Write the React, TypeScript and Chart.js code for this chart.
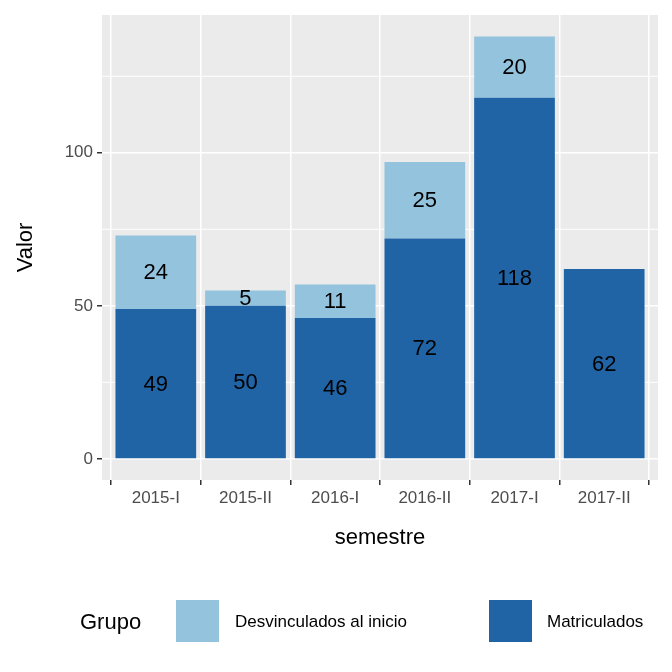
import { useEffect, useRef } from 'react';
import { Chart, registerables } from 'chart.js';

Chart.register(...registerables);

const semestres = ['2015-I', '2015-II', '2016-I', '2016-II', '2017-I', '2017-II'];
const matriculados = [49, 50, 46, 72, 118, 62];
const desvinculados: (number | null)[] = [24, 5, 11, 25, 20, null];
const yTicks = [0, 50, 100];
const yMinor = [25, 75, 125];

const LIGHT = '#94C3DE';
const DARK = '#2064A6';
const FONT = '"Liberation Sans", Arial, sans-serif';

const ggPlugin = {
  id: 'gg',
  beforeDraw(chart: any) {
    const { ctx, chartArea: a, scales } = chart;
    ctx.save();
    ctx.fillStyle = '#EBEBEB';
    ctx.fillRect(a.left, a.top, a.right - a.left, a.bottom - a.top);
    ctx.strokeStyle = '#FFFFFF';
    ctx.lineWidth = 1;
    yMinor.forEach((v) => {
      const y = scales.y.getPixelForValue(v);
      ctx.beginPath();
      ctx.moveTo(a.left, y);
      ctx.lineTo(a.right, y);
      ctx.stroke();
    });
    ctx.restore();
  },
  afterDraw(chart: any) {
    const { ctx, chartArea: a } = chart;
    ctx.save();
    ctx.fillStyle = '#000';
    ctx.font = `22px ${FONT}`;
    ctx.textAlign = 'center';
    ctx.textBaseline = 'middle';
    chart.data.datasets.forEach((ds: any, di: number) => {
      const meta = chart.getDatasetMeta(di);
      ds.data.forEach((v: any, i: number) => {
        if (v == null || v.y == null) return;
        const bar = meta.data[i];
        ctx.fillText(String(v.y), bar.x, (bar.y + bar.base) / 2 + 1);
      });
    });
    ctx.fillText('semestre', (a.left + a.right) / 2, 538);
    ctx.save();
    ctx.translate(26, (a.top + a.bottom) / 2);
    ctx.rotate(-Math.PI / 2);
    ctx.fillText('Valor', 0, 0);
    ctx.restore();
    ctx.textAlign = 'left';
    ctx.fillText('Grupo', 80, 623);
    ctx.fillStyle = LIGHT;
    ctx.fillRect(176, 600, 43, 42);
    ctx.fillStyle = DARK;
    ctx.fillRect(489, 600, 43, 42);
    ctx.fillStyle = '#000';
    ctx.font = `17px ${FONT}`;
    ctx.fillText('Desvinculados al inicio', 235, 622);
    ctx.fillText('Matriculados', 547, 622);
    ctx.restore();
  },
};

export default function App() {
  const ref = useRef<HTMLCanvasElement>(null);
  useEffect(() => {
    document.body.style.margin = '0';
    if (!ref.current) return;
    const chart = new Chart(ref.current, {
      type: 'bar',
      data: {
        datasets: [
          { label: 'Matriculados', data: matriculados.map((y, x) => ({ x, y })), backgroundColor: DARK },
          { label: 'Desvinculados al inicio', data: desvinculados.map((y, x) => ({ x, y })), backgroundColor: LIGHT },
        ],
      } as any,
      options: {
        responsive: false,
        animation: false,
        devicePixelRatio: 1,
        layout: { padding: { top: 15, right: 14, left: 0, bottom: 0 } },
        datasets: { bar: { barPercentage: 0.9, categoryPercentage: 1 } },
        plugins: { legend: { display: false }, tooltip: { enabled: false } },
        scales: {
          x: {
            type: 'linear',
            stacked: true,
            min: -0.6,
            max: 5.6,
            offset: false,
            grid: { color: '#FFFFFF', lineWidth: 1.5, tickLength: 5, tickColor: '#333333', tickWidth: 1.5 },
            border: { display: false },
            ticks: {
              color: '#4D4D4D',
              font: { size: 17, family: FONT },
              padding: 3,
              callback: (v: any) => semestres[v as number],
            },
            afterBuildTicks: (s: any) => { s.ticks = semestres.map((_, i) => ({ value: i })); },
            afterFit: (s: any) => { s.height = 192; },
          },
          y: {
            stacked: true,
            min: -6.9,
            max: 145,
            grid: { color: '#FFFFFF', lineWidth: 1.5, tickLength: 5, tickColor: '#333333', tickWidth: 1.5 },
            border: { display: false },
            ticks: { color: '#4D4D4D', font: { size: 17, family: FONT }, padding: 4 },
            afterBuildTicks: (s: any) => { s.ticks = yTicks.map((v) => ({ value: v })); },
            afterFit: (s: any) => { s.width = 102; },
          },
        },
      } as any,
      plugins: [ggPlugin],
    });
    return () => chart.destroy();
  }, []);
  return <canvas ref={ref} width={672} height={672} />;
}
